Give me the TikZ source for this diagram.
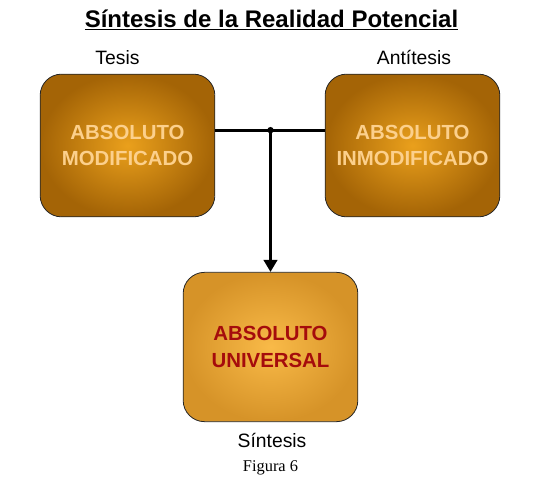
\documentclass[tikz,border=0pt]{standalone}
\usepackage{fontspec}
\setmainfont{Liberation Sans}
\newfontfamily\figfont{Liberation Serif}
\usepackage{xcolor}
\usetikzlibrary{arrows.meta}
\usetikzlibrary{positioning}

\definecolor{boxdark}{HTML}{A46406}
\definecolor{boxlight}{HTML}{EAA01C}
\definecolor{lowdark}{HTML}{D69328}
\definecolor{lowlight}{HTML}{F9BA48}
\definecolor{textpeach}{HTML}{FCD08C}
\definecolor{textred}{HTML}{A50C0C}

\begin{document}
\begin{tikzpicture}
        [x=0.75pt,y=-0.75pt,
        thesis/.style={rectangle,rounded corners=16pt,draw=black!85,semithick,inner color=boxlight,outer color=boxdark,
          minimum width=131pt,minimum height=107pt,align=center,text=textpeach,font=\fontsize{15.3}{20}\selectfont\bfseries},
        synthesis/.style={rectangle,rounded corners=16pt,draw=black!85,semithick,inner color=lowlight,outer color=lowdark,
          minimum width=131pt,minimum height=112pt,align=center,text=textred,font=\fontsize{15.3}{20}\selectfont\bfseries},
        caption/.style={font=\fontsize{14.5}{17}\selectfont},
        link/.style={line width=2.5pt}]

\useasboundingbox (0,0) rectangle (546,482);

% title
\node at (271.5,20) (title) {\fontsize{18}{21}\selectfont\bfseries\underline{Síntesis de la Realidad Potencial}};

% boxes
\node[thesis] at (127.5,145.5) (modif) {ABSOLUTO\\MODIFICADO};
\node[thesis] at (412.5,145.5) (inmodif) {ABSOLUTO\\INMODIFICADO};
\node[synthesis] at (270.5,347) (universal) {ABSOLUTO\\UNIVERSAL};

% labels
\node[caption] at (117.5,58) (tesis) {Tesis};
\node[caption] at (414,57) (antitesis) {Antítesis};
\node[caption] at (272,440) (sintesis) {Síntesis};
\node[font=\figfont\fontsize{12.3}{14}\selectfont] at (270.5,468) (figura) {Figura 6};

% arrows
\coordinate (join) at ([yshift=11.5pt]universal.north |- modif.east);
\draw[link] (modif.east |- join) -- (inmodif.west |- join);
\fill (join) circle (2.4pt);
\draw[link,-{Triangle[width=10pt,length=9pt]}] (join) -- (universal.north);

\end{tikzpicture}
\end{document}
